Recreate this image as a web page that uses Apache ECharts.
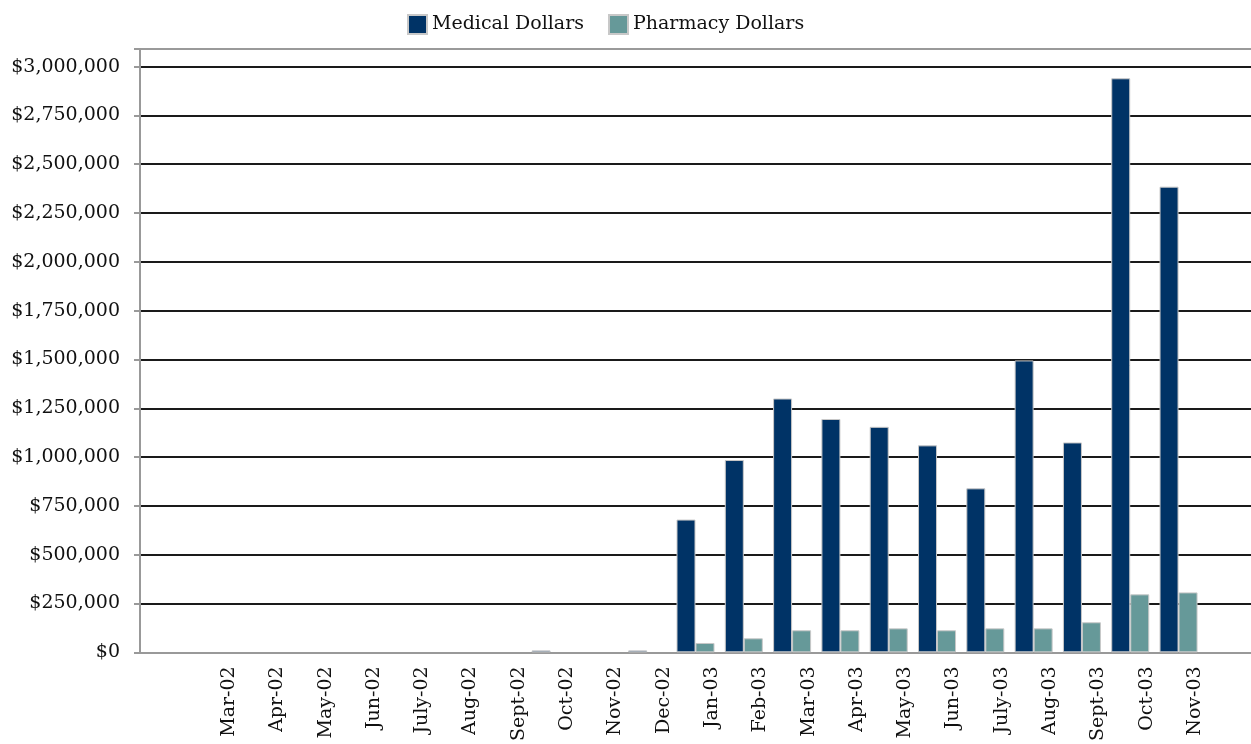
<!DOCTYPE html>
<html>
<head>
<meta charset="utf-8">
<title>Medical / Pharmacy Dollars</title>
<script src="https://cdn.jsdelivr.net/npm/echarts@6/dist/echarts.min.js"></script>
<style>
  html, body { margin: 0; padding: 0; background: #fff; }
  #main { width: 1251px; height: 744px; }
</style>
</head>
<body>
<div id="main"></div>
<script>
// categories (first and last slot have no label in the original)
var months = ['', 'Mar-02', 'Apr-02', 'May-02', 'Jun-02', 'July-02', 'Aug-02', 'Sept-02',
  'Oct-02', 'Nov-02', 'Dec-02', 'Jan-03', 'Feb-03', 'Mar-03', 'Apr-03', 'May-03',
  'Jun-03', 'July-03', 'Aug-03', 'Sept-03', 'Oct-03', 'Nov-03', ''];

var medicalDollars = [0, 0, 0, 0, 0, 0, 0, 0, 10000, 0, 10000, 680000, 985000, 1300000,
  1195000, 1155000, 1060000, 840000, 1495000, 1075000, 2940000, 2385000, 0];

var pharmacyDollars = [0, 0, 0, 0, 0, 0, 0, 0, 0, 0, 0, 48000, 72000, 113000,
  113000, 123000, 113000, 123000, 123000, 154000, 297000, 307000, 0];

var yTicks = { min: 0, max: 3090000, interval: 250000 };

function money(v) {
  return '$' + String(v).replace(/\B(?=(\d{3})+(?!\d))/g, ',');
}

// empty months draw nothing (no border line on the axis)
function bars(arr) {
  return arr.map(function (v) { return v === 0 ? null : v; });
}

var myChart = echarts.init(document.getElementById('main'));

// gray for the $0 line and the top border, dark for the rest
var gridColors = ['#999999'];
for (var i = 0; i < 12; i++) gridColors.push('#1a1a1a');
gridColors.push('#9a9a9a');

myChart.setOption({
  animation: false,
  legend: {
    left: 402,
    top: 9,
    icon: 'rect',
    itemWidth: 19,
    itemHeight: 19,
    itemGap: 24,
    textStyle: { fontSize: 19, color: '#111', fontFamily: 'DejaVu Serif' },
    data: ['Medical Dollars', 'Pharmacy Dollars']
  },
  grid: { show: false, left: 140, right: -5, top: 49, bottom: 91 },
  xAxis: {
    type: 'category',
    data: months,
    axisLine: { lineStyle: { color: '#999', width: 2 } },
    axisTick: { show: false },
    axisLabel: {
      interval: 0,
      rotate: 90,
      margin: 14,
      verticalAlign: 'top',
      lineHeight: 33,
      fontSize: 19,
      color: '#111',
      fontFamily: 'DejaVu Serif'
    }
  },
  yAxis: {
    type: 'value',
    min: yTicks.min,
    max: yTicks.max,
    interval: yTicks.interval,
    axisLine: { show: true, lineStyle: { color: '#999', width: 2 } },
    axisTick: { show: true, length: 6, lineStyle: { color: '#999', width: 2 } },
    axisLabel: {
      margin: 20,
      fontSize: 19,
      color: '#111',
      fontFamily: 'DejaVu Serif',
      formatter: function (v) {
        return v % yTicks.interval === 0 ? money(v) : '';
      }
    },
    splitLine: { lineStyle: { color: gridColors, width: 2 } }
  },
  series: [{
    name: 'Medical Dollars',
    type: 'bar',
    data: bars(medicalDollars),
    barWidth: 19,
    barGap: '0%',
    itemStyle: { color: '#003366', borderColor: '#c8c8c8', borderWidth: 1 }
  }, {
    name: 'Pharmacy Dollars',
    type: 'bar',
    data: bars(pharmacyDollars),
    barWidth: 19,
    barGap: '0%',
    itemStyle: { color: '#669999', borderColor: '#c8c8c8', borderWidth: 1 }
  }]
});
</script>
</body>
</html>
